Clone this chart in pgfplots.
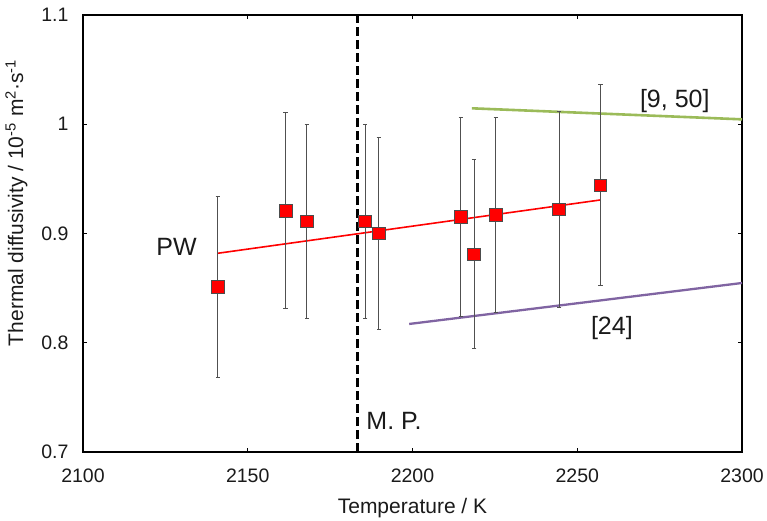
\documentclass[border=0pt]{standalone}
\usepackage{pgfplots}
\pgfplotsset{compat=1.18}
\usepackage{fontspec}
\setmainfont{Liberation Sans}
\definecolor{exgreen}{HTML}{9BBB59}
\definecolor{expurple}{HTML}{8064A2}
\definecolor{errgray}{HTML}{505050}
\definecolor{txt}{HTML}{1A1A1A}
\begin{document}
\begin{tikzpicture}
\useasboundingbox (-83pt,-68pt) rectangle (684pt,452pt);
\begin{axis}[
  at={(0,0)}, anchor=south west,
  scale only axis,
  width=659pt, height=437pt,
  xmin=2100, xmax=2300, ymin=0.7, ymax=1.1,
  xtick={2100,2150,...,2300},
  ytick={0.7,0.8,0.9,1,1.1},
  yticklabels={0.7,0.8,0.9,1,1.1},
  /pgf/number format/assume math mode=true,
  /pgf/number format/1000 sep={},
  tick align=inside,
  major tick length=4.5pt,
  tick style={black, line width=1.2pt},
  axis line style={black, line width=1.8pt},
  every tick label/.append style={font=\fontsize{19.5}{22}\selectfont, text=txt},
  xticklabel style={yshift=-13pt},
  yticklabel style={xshift=-11pt},
  xlabel={Temperature / K},
  ylabel={Thermal diffusivity / 10\textsuperscript{-5} m\textsuperscript{2}·s\textsuperscript{-1}},
  label style={font=\fontsize{21}{24}\selectfont, text=txt},
  xlabel style={at={(axis description cs:0.5,0)}, anchor=base, yshift=-61pt},
  ylabel style={at={(axis description cs:-0.091,0.57)}, anchor=base},
  clip=false,
]
% M.P. dashed line
\addplot[black, line width=2.6pt, dash pattern=on 9pt off 4pt] coordinates {(2183.3,0.7) (2183.3,1.1)};
% literature lines
\addplot[exgreen, line width=2.6pt] coordinates {(2218.0,1.0146) (2300,1.0045)};
\addplot[expurple, line width=2.3pt] coordinates {(2199.0,0.8172) (2300,0.8547)};
% PW fit
\addplot[red, line width=1.6pt] coordinates {(2140.9,0.8819) (2257.0,0.9307)};
% PW data
\addplot[only marks, mark=square*, mark size=6.3pt,
  mark options={fill=red, draw=black!70, line width=0.7pt},
  error bars/.cd, y dir=both, y explicit,
  error bar style={errgray, line width=1.1pt},
  error mark options={errgray, line width=1.1pt, rotate=90, mark size=2.2pt}]
coordinates {
 (2140.9,0.851) +- (0,0.083)
 (2161.5,0.921) +- (0,0.090)
 (2167.9,0.911) +- (0,0.089)
 (2185.6,0.911) +- (0,0.089)
 (2189.8,0.900) +- (0,0.0875)
 (2214.7,0.915) +- (0,0.091)
 (2218.7,0.881) +- (0,0.0865)
 (2225.3,0.917) +- (0,0.089)
 (2244.5,0.922) +- (0,0.0895)
 (2257.0,0.944) +- (0,0.092)
};
\node[font=\fontsize{25}{28}\selectfont, text=txt] at (axis cs:2128.4,0.8876) {PW};
\node[font=\fontsize{25}{28}\selectfont, text=txt, anchor=base] at (axis cs:2279.6,1.0155) {[9, 50]};
\node[font=\fontsize{25}{28}\selectfont, text=txt, anchor=base] at (axis cs:2260.5,0.808) {[24]};
\node[font=\fontsize{25}{28}\selectfont, text=txt, anchor=base] at (axis cs:2194.4,0.7208) {M. P.};
\end{axis}
\end{tikzpicture}
\end{document}
